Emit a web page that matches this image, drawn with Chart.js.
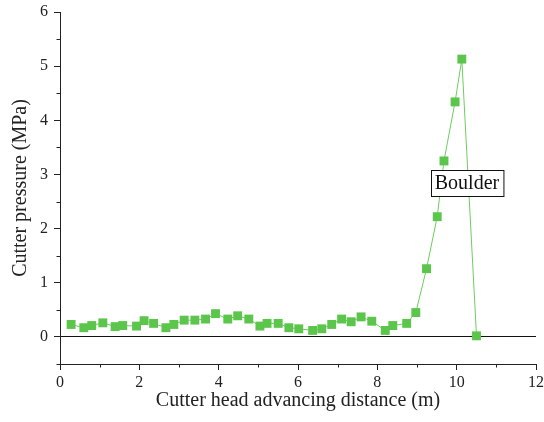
<!DOCTYPE html>
<html>
<head>
<meta charset="utf-8">
<script src="https://cdn.jsdelivr.net/npm/chart.js@4/dist/chart.umd.min.js"></script>
<style>
  html, body { margin: 0; padding: 0; background: #fff; }
  #wrap { width: 544px; height: 422px; position: relative; }
</style>
</head>
<body>
<div id="wrap"><canvas id="c" width="544" height="422"></canvas></div>
<script>
// Cutter head advancing distance (m)
const distance = [
  0.28, 0.60, 0.80, 1.08, 1.39, 1.58, 1.93, 2.12, 2.36, 2.67,
  2.87, 3.13, 3.40, 3.67, 3.92, 4.23, 4.48, 4.76, 5.04, 5.22,
  5.50, 5.77, 6.02, 6.37, 6.60, 6.85, 7.10, 7.34, 7.59, 7.86,
  8.20, 8.39, 8.74, 8.97, 9.24, 9.51, 9.68, 9.96, 10.13, 10.50
];
// Cutter pressure (MPa)
const pressure = [
  0.23, 0.17, 0.21, 0.26, 0.19, 0.21, 0.20, 0.30, 0.25, 0.17,
  0.23, 0.31, 0.31, 0.33, 0.43, 0.33, 0.39, 0.33, 0.20, 0.25,
  0.25, 0.17, 0.15, 0.12, 0.15, 0.23, 0.33, 0.28, 0.37, 0.29,
  0.12, 0.21, 0.25, 0.45, 1.26, 2.22, 3.25, 4.34, 5.13, 0.02
];
const xTickValues = [0, 2, 4, 6, 8, 10, 12];
const yTickValues = [0, 1, 2, 3, 4, 5, 6];
const noteText = 'Boulder';
const noteAt = [10.26, 2.84];

const serif = '"Liberation Serif", "Times New Roman", serif';
const green = 'rgb(92,198,76)';
const lineGreen = 'rgb(110,205,95)';

// short minor ticks between the labelled ones
const minorTicks = {
  id: 'minorTicks',
  afterDraw(chart) {
    const ctx = chart.ctx;
    const xs = chart.scales.x, ys = chart.scales.y;
    ctx.save();
    ctx.strokeStyle = '#222';
    ctx.lineWidth = 1;
    ctx.beginPath();
    for (let v = 1; v < 12; v += 2) {
      const px = Math.round(xs.getPixelForValue(v)) + 0.5;
      ctx.moveTo(px, xs.top);
      ctx.lineTo(px, xs.top + 3.5);
    }
    for (let v = -0.5; v < 6; v += 1) {
      const py = Math.round(ys.getPixelForValue(v)) + 0.5;
      ctx.moveTo(ys.right, py);
      ctx.lineTo(ys.right - 3.5, py);
    }
    ctx.stroke();
    ctx.restore();
  }
};

// boxed text note beside the peak
const notePlugin = {
  id: 'notePlugin',
  afterDatasetsDraw(chart) {
    const ctx = chart.ctx;
    const cx = chart.scales.x.getPixelForValue(noteAt[0]);
    const cy = chart.scales.y.getPixelForValue(noteAt[1]);
    ctx.save();
    ctx.font = '20px ' + serif;
    const w = ctx.measureText(noteText).width + 8;
    const h = 26;
    const x0 = Math.round(cx - w / 2) + 0.5, y0 = Math.round(cy - h / 2) + 0.5;
    ctx.fillStyle = '#fff';
    ctx.fillRect(x0, y0, w, h);
    ctx.strokeStyle = '#111';
    ctx.lineWidth = 1;
    ctx.strokeRect(x0, y0, w, h);
    ctx.fillStyle = '#111';
    ctx.textAlign = 'center';
    ctx.textBaseline = 'middle';
    ctx.fillText(noteText, cx, cy + 1);
    ctx.restore();
  }
};

new Chart(document.getElementById('c'), {
  type: 'scatter',
  data: {
    datasets: [{
      data: distance.map((d, i) => ({ x: d, y: pressure[i] })),
      showLine: true,
      borderColor: lineGreen,
      borderWidth: 1,
      backgroundColor: green,
      pointStyle: 'rect',
      pointRadius: 6.3,
      pointBorderWidth: 0,
      pointBorderColor: green,
      pointBackgroundColor: green,
      tension: 0
    }]
  },
  options: {
    responsive: false,
    animation: false,
    devicePixelRatio: 1,
    layout: { padding: { top: 12, right: 8, bottom: 9, left: 9 } },
    plugins: { legend: { display: false }, tooltip: { enabled: false } },
    scales: {
      x: {
        type: 'linear',
        min: 0, max: 12,
        afterBuildTicks(scale) { scale.ticks = xTickValues.map(v => ({ value: v })); },
        afterFit(scale) { scale.height = 49; scale.paddingLeft = 0; scale.paddingRight = 0; },
        border: { display: true, color: '#222', width: 1 },
        grid: { drawOnChartArea: false, drawTicks: true, tickLength: 6, tickColor: '#222' },
        ticks: { color: '#222', font: { family: serif, size: 16 }, padding: 3, maxRotation: 0 },
        title: {
          display: true, text: 'Cutter head advancing distance (m)',
          color: '#222', font: { family: serif, size: 20 }, padding: { top: 2, bottom: 0 }
        }
      },
      y: {
        type: 'linear',
        min: -0.5, max: 6,
        afterBuildTicks(scale) { scale.ticks = yTickValues.map(v => ({ value: v })); },
        afterFit(scale) { scale.width = 51; scale.paddingTop = 0; scale.paddingBottom = 0; },
        border: { display: true, color: '#222', width: 1 },
        grid: {
          drawOnChartArea: true, drawTicks: true, tickLength: 6,
          tickColor: '#222',
          color: ctx => (ctx.tick && ctx.tick.value === 0 ? '#111' : 'rgba(0,0,0,0)'),
          lineWidth: 1
        },
        ticks: { color: '#222', font: { family: serif, size: 16 }, padding: 6 },
        title: {
          display: true, text: 'Cutter pressure (MPa)',
          color: '#222', font: { family: serif, size: 20 }, padding: { top: 0, bottom: 2 }
        }
      }
    }
  },
  plugins: [minorTicks, notePlugin]
});
</script>
</body>
</html>
